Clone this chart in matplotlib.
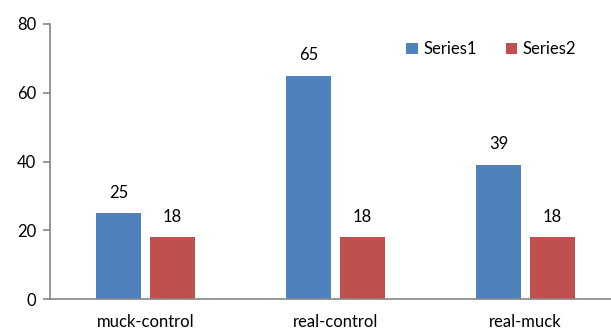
import numpy as np
import matplotlib
matplotlib.use('Agg')
from matplotlib import pyplot as plt

plt.rcParams['font.family'] = ['Lato', 'DejaVu Sans']

categories = ['muck-control', 'real-control', 'real-muck']
series1 = [25, 65, 39]
series2 = [18, 18, 18]
series_names = ['Series1', 'Series2']

blue = '#4F81BD'
red = '#C0504D'
axis_color = '#868686'
fs = 12

fig = plt.figure(figsize=(6.11, 3.29), dpi=100)
ax = fig.add_axes([50 / 611, 30 / 329, 1 - 50 / 611, 275 / 329])

x = np.arange(len(categories))
w = 0.237
off = 0.142
b1 = ax.bar(x - off, series1, w, color=blue, label=series_names[0])
b2 = ax.bar(x + off, series2, w, color=red, label=series_names[1])

for bars in (b1, b2):
    for r in bars:
        ax.annotate(str(int(r.get_height())),
                    (r.get_x() + r.get_width() / 2, r.get_height()),
                    xytext=(0, 9), textcoords='offset points',
                    ha='center', va='bottom', fontsize=fs, color='black')

ax.set_xlim(-0.503, 2.45)
ax.set_ylim(0, 80)
ax.set_yticks([0, 20, 40, 60, 80])
ax.set_xticks(x)
ax.set_xticklabels(categories)

for s in ['top', 'right']:
    ax.spines[s].set_visible(False)
for s in ['left', 'bottom']:
    ax.spines[s].set_color(axis_color)
    ax.spines[s].set_linewidth(1.2)

ax.tick_params(axis='y', length=5, color=axis_color, width=1.2, labelsize=fs, pad=5)
ax.tick_params(axis='x', length=0, labelsize=fs, pad=11)

ax.legend(loc='upper left', bbox_to_anchor=(398 / 611, 1 - 33 / 329),
          bbox_transform=fig.transFigure, ncol=2, frameon=False,
          fontsize=fs, handlelength=0.7, handleheight=0.7,
          columnspacing=1.75, handletextpad=0.3, borderpad=0)

fig.savefig('out.png', dpi=100)
